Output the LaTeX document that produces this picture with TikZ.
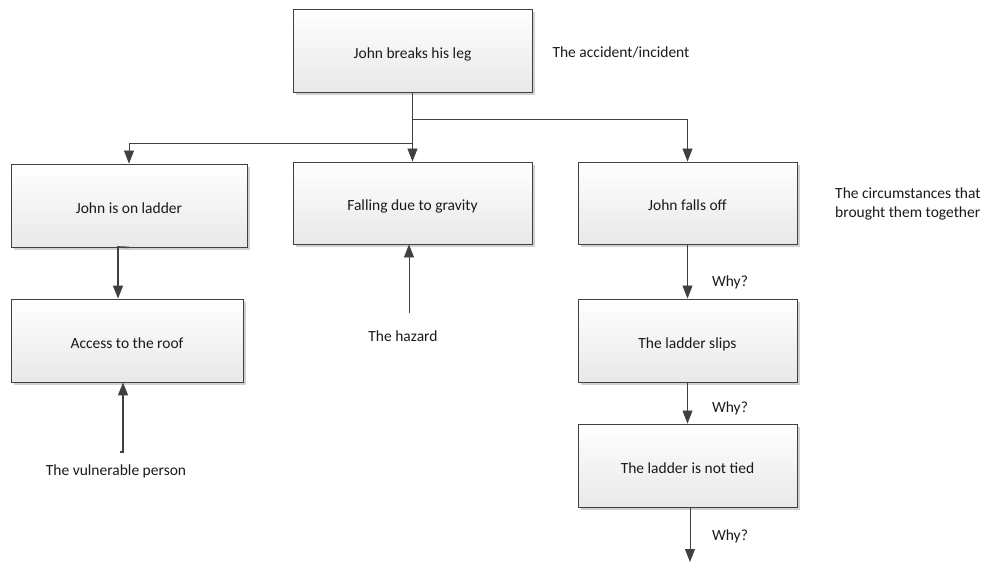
\documentclass[tikz,border=0pt]{standalone}
\usepackage{fontspec}
\setmainfont{Carlito}
\usetikzlibrary{arrows.meta,shadows}
\definecolor{linec}{HTML}{404040}
\definecolor{txt}{HTML}{1A1A1A}
\tikzset{
  box/.style={draw=linec, line width=0.9pt, top color=white, bottom color=black!9,
    general shadow={shadow xshift=2.5pt, shadow yshift=-2.5pt, fill=black!18},
    text=txt, font=\fontsize{15.5}{19.5}\selectfont, inner sep=2pt,
    text height=18pt, text depth=3pt},
  lbl/.style={text=txt, font=\fontsize{15.5}{19.5}\selectfont, inner sep=1pt},
  arr/.style={draw=linec, line width=0.8pt, -{Triangle[length=13pt,width=10pt]}},
  arrthick/.style={draw=linec, line width=1.6pt, -{Triangle[length=13pt,width=10pt]}},
}
\begin{document}
\begin{tikzpicture}[x=1pt,y=-1pt]
\useasboundingbox (0,0) rectangle (989,562);
% boxes
\node[box, minimum width=239pt, minimum height=83pt] (top) at (412.5,50.5) {John breaks his leg};
\node[box, minimum width=236pt, minimum height=83pt] (ladder) at (129,205.5) {John is on ladder};
\node[box, minimum width=239pt, minimum height=82pt] (gravity) at (412.5,203) {Falling due to gravity};
\node[box, minimum width=219pt, minimum height=82pt] (falls) at (687.5,203) {John falls off};
\node[box, minimum width=232pt, minimum height=83pt] (access) at (127,340.5) {Access to the roof};
\node[box, minimum width=219pt, minimum height=83pt] (slips) at (687.5,340.5) {The ladder slips};
\node[box, minimum width=219pt, minimum height=83pt] (tied) at (687.5,465.5) {The ladder is not tied};
% labels
\node[lbl] (acc) at (621,52) {The accident/incident};
\node[lbl, anchor=west, align=left] (circ) at (834,204) {The circumstances that\\brought them together};
\node[lbl] (vp) at (116,471) {The vulnerable person};
\node[lbl] (hz) at (403,336) {The hazard};
\node[lbl] (w1) at (730,282) {Why?};
\node[lbl] (w2) at (730,408) {Why?};
\node[lbl] (w3) at (730,536) {Why?};
% connectors
\coordinate (b1) at (412.5,119);
\coordinate (b2) at (412.5,143);
\draw[arr] (top.south) -- (gravity.north);
\draw[arr] (b1) -| (falls.north);
\draw[arr] (b2) -| (ladder.north);
\coordinate (j1) at (118,247);
\draw[arrthick] (ladder.south) -- (j1) -- (j1 |- access.north);
\coordinate (v0) at (120,452);
\coordinate (v1) at (123,452);
\draw[arrthick] (v0) -- (v1) -- (v1 |- access.south);
\coordinate (h0) at (409,313);
\draw[arr] (h0) -- (h0 |- gravity.south);
\draw[arr] (falls.south) -- (slips.north);
\draw[arr] (slips.south) -- (tied.north);
\coordinate (e0) at (690,507.5);
\coordinate (e1) at (690,562);
\draw[arr] (e0) -- (e1);
\end{tikzpicture}
\end{document}
